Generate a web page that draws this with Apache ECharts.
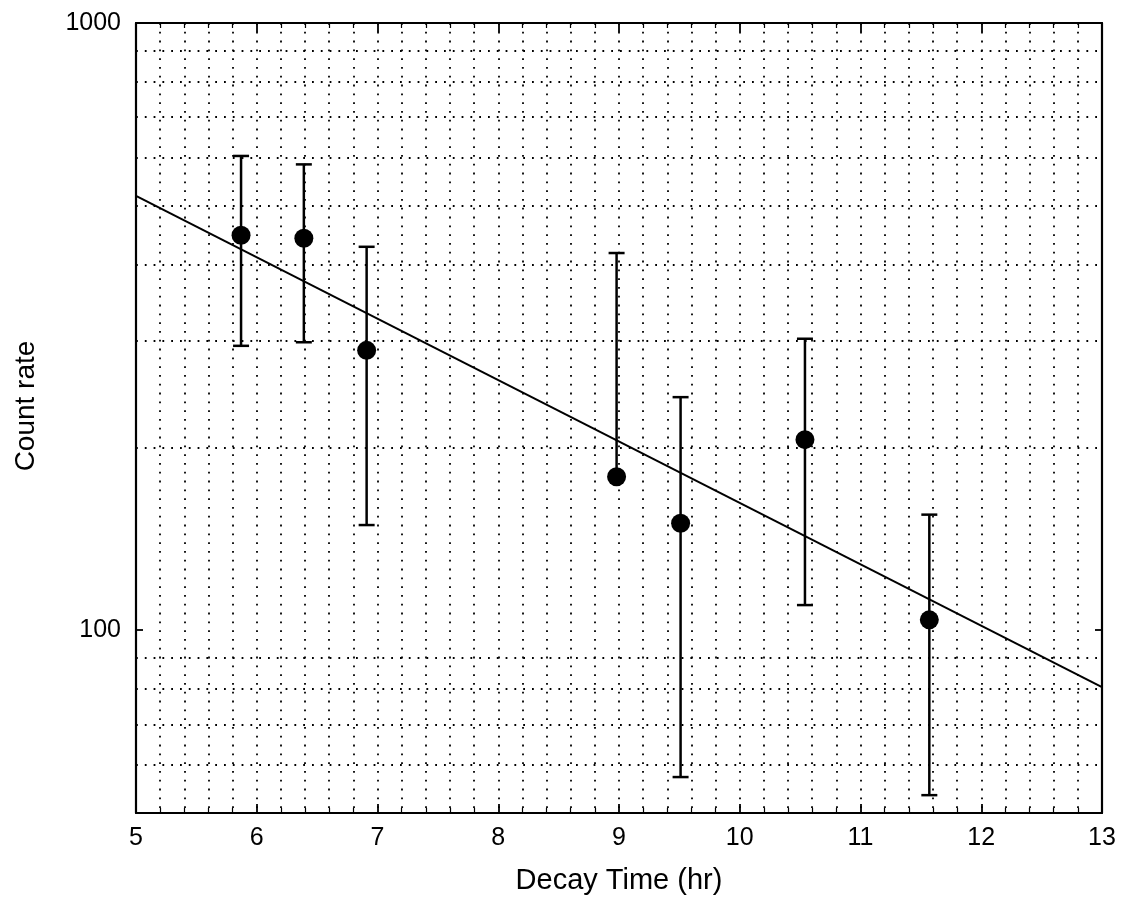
<!DOCTYPE html>
<html>
<head>
<meta charset="utf-8">
<title>Decay Time vs Count rate</title>
<script src="https://cdn.jsdelivr.net/npm/echarts@6/dist/echarts.min.js"></script>
<style>
  html, body { margin: 0; padding: 0; background: #fff; }
  #chart { width: 1122px; height: 913px; }
</style>
</head>
<body>
<div id="chart"></div>
<script>
// measured points (hr, counts) with error bar ends
const decayTime = [5.87, 6.39, 6.91, 8.98, 9.51, 10.54, 11.57];
const countRate = [447, 442, 289, 179, 150, 206, 104];
const errLow = [294, 298, 149, 179, 57.3, 110, 53.5];
const errHigh = [604, 585, 428, 418, 242, 302, 155];

// fitted decay line
const fitTime = [5, 13];
const fitRate = [519, 80.6];

// dotted horizontal grid (log minor values)
const yGridValues = [60, 70, 80, 90, 200, 300, 400, 500, 600, 700, 800, 900];

const font = "Liberation Sans, Arial, sans-serif";
const chart = echarts.init(document.getElementById("chart"));

const dotted = { color: "#000", width: 1.8, type: [1.8, 7] };

const xBase = {
  type: "value",
  min: 5,
  max: 13,
  interval: 1,
  axisLine: { show: true, onZero: false, lineStyle: { color: "#000", width: 2.2 } },
  axisTick: { show: true, inside: true, length: 9, lineStyle: { color: "#000", width: 1.8 } },
  minorTick: { show: true, splitNumber: 5, length: 5, lineStyle: { color: "#000", width: 1.2 } },
};

const yBase = {
  type: "log",
  logBase: 10,
  min: 50,
  max: 1000,
  axisLine: { show: true, onZero: false, lineStyle: { color: "#000", width: 2.2 } },
  axisTick: { show: true, inside: true, length: 7, lineStyle: { color: "#000", width: 1.8 } },
  splitLine: { show: false },
};

const option = {
  backgroundColor: "#fff",
  animation: false,
  grid: { left: 136, right: 20, top: 23, bottom: 100, containLabel: false },
  xAxis: [
    Object.assign({}, xBase, {
      position: "bottom",
      name: "Decay Time (hr)",
      nameLocation: "middle",
      nameGap: 53,
      nameTextStyle: { color: "#000", fontSize: 29, fontFamily: font },
      axisLabel: {
        color: "#000",
        fontSize: 25,
        fontFamily: font,
        margin: 13,
        formatter: (v) => String(Math.round(v)),
      },
      splitLine: { show: true, lineStyle: dotted },
      minorSplitLine: { show: true, lineStyle: dotted },
    }),
    Object.assign({}, xBase, {
      position: "top",
      axisLabel: { show: false },
      splitLine: { show: false },
    }),
  ],
  yAxis: [
    Object.assign({}, yBase, {
      position: "left",
      name: "Count rate",
      nameLocation: "middle",
      nameGap: 96,
      nameRotate: 90,
      nameTextStyle: { color: "#000", fontSize: 28, fontFamily: font, padding: [0, 0, 0, 24] },
      axisLabel: {
        color: "#000",
        fontSize: 25,
        fontFamily: font,
        margin: 15,
        formatter: (v) => (Math.abs(v - 100) < 1e-6 || Math.abs(v - 1000) < 1e-6 ? String(Math.round(v)) : ""),
      },
    }),
    Object.assign({}, yBase, {
      position: "right",
      axisLabel: { show: false },
    }),
  ],
  series: [
    {
      // horizontal dotted grid lines
      type: "line",
      data: [],
      silent: true,
      markLine: {
        silent: true,
        symbol: "none",
        label: { show: false },
        lineStyle: dotted,
        data: yGridValues.map((v) => ({ yAxis: v })),
      },
    },
    {
      // fit line
      type: "line",
      data: fitTime.map((t, i) => [t, fitRate[i]]),
      showSymbol: false,
      symbol: "none",
      lineStyle: { color: "#000", width: 2 },
      z: 3,
    },
    {
      // error bars
      type: "custom",
      data: decayTime.map((t, i) => [t, errLow[i], errHigh[i]]),
      z: 4,
      renderItem(params, api) {
        const x = api.value(0);
        const top = api.coord([x, api.value(2)]);
        const bot = api.coord([x, api.value(1)]);
        const half = 8;
        const style = { stroke: "#000", lineWidth: 2.5 };
        return {
          type: "group",
          children: [
            { type: "line", shape: { x1: top[0], y1: top[1], x2: bot[0], y2: bot[1] }, style },
            { type: "line", shape: { x1: top[0] - half, y1: top[1], x2: top[0] + half, y2: top[1] }, style },
            { type: "line", shape: { x1: bot[0] - half, y1: bot[1], x2: bot[0] + half, y2: bot[1] }, style },
          ],
        };
      },
    },
    {
      // data points
      type: "scatter",
      data: decayTime.map((t, i) => [t, countRate[i]]),
      symbol: "circle",
      symbolSize: 19,
      itemStyle: { color: "#000", opacity: 1 },
      z: 5,
    },
  ],
};

chart.setOption(option);
</script>
</body>
</html>
